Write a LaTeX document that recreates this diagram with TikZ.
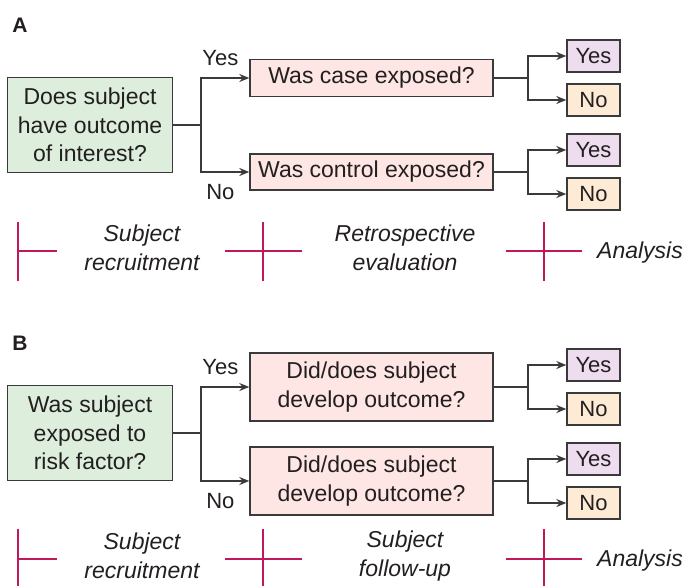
\documentclass[tikz,border=0pt]{standalone}
\usepackage{fontspec}
\setmainfont{Liberation Sans}
\usepackage{tikz}
\usetikzlibrary{arrows.meta, positioning}
\definecolor{qgreen}{HTML}{DDEEDD}
\definecolor{askpink}{HTML}{FDE6E3}
\definecolor{yeslilac}{HTML}{EDDDEE}
\definecolor{noorange}{HTML}{FDEBD6}
\definecolor{phasered}{HTML}{C0185A}
\definecolor{edgegray}{HTML}{3A3A3A}
\definecolor{inkdark}{HTML}{231F20}

\begin{document}
\begin{tikzpicture}[x=1pt, y=-1pt,
    box/.style={draw=edgegray, line width=1.4pt, inner sep=0pt, align=center, text=inkdark, font=\fontsize{23}{28.5}\selectfont},
    qbox/.style={box, fill=qgreen, minimum width=165pt, minimum height=95pt},
    ask/.style={box, fill=askpink, minimum width=243pt},
    yesbox/.style={box, fill=yeslilac, minimum width=53pt, minimum height=32pt, font=\fontsize{22}{26}\selectfont},
    nobox/.style={box, fill=noorange, minimum width=53pt, minimum height=32pt, font=\fontsize{22}{26}\selectfont},
    arr/.style={-{Stealth[length=10pt,width=8pt]}, line width=1.4pt, draw=edgegray},
    link/.style={line width=1.4pt, draw=edgegray},
    phase/.style={line width=1.3pt, draw=phasered},
    stage/.style={align=center, text=inkdark, font=\fontsize{23}{28.5}\selectfont\itshape},
    lbl/.style={text=inkdark, font=\fontsize{22}{26}\selectfont},
    panel/.style={text=inkdark, font=\fontsize{21}{24}\selectfont\bfseries}
]
    \useasboundingbox (0,0) rectangle (700,586);

    % panel A
    \node[panel] (labA) at (20,25) {A};
    \node[qbox] (qA) at (90,125) {Does subject\\have outcome\\of interest?};
    \node[ask, minimum height=37pt] (caseq) at (371.5,78) {Was case exposed?};
    \node[ask, minimum height=36pt] (ctrlq) at (371.5,172) {Was control exposed?};
    \node[yesbox] (yes1) at (593.5,56)  {Yes};
    \node[nobox]  (no1)  at (593.5,100) {No};
    \node[yesbox] (yes2) at (593.5,150) {Yes};
    \node[nobox]  (no2)  at (593.5,194) {No};

    \coordinate (jA)  at (201,125);
    \coordinate (jA1) at (528,78);
    \coordinate (jA2) at (528,172);

    \draw[link] (qA) -- (jA);
    \draw[arr] (jA) |- node[lbl, pos=0.7, above=8pt] {Yes} (caseq);
    \draw[arr] (jA) |- node[lbl, pos=0.7, below=8pt] {No} (ctrlq);
    \draw[link] (caseq) -- (jA1);
    \draw[arr] (jA1) |- (yes1);
    \draw[arr] (jA1) |- (no1);
    \draw[link] (ctrlq) -- (jA2);
    \draw[arr] (jA2) |- (yes2);
    \draw[arr] (jA2) |- (no2);

    \draw[phase] (18,222) -- (18,281) (18,251) -- (57,251);
    \draw[phase] (263,222) -- (263,281) (225,251) -- (302,251);
    \draw[phase] (544,222) -- (544,281) (506,251) -- (582,251);
    \node[stage] (recA)   at (142,248) {Subject\\recruitment};
    \node[stage] (retroA) at (405,248) {Retrospective\\evaluation};
    \node[stage] (anaA)   at (640,253) {Analysis};

    % panel B
    \node[panel] (labB) at (20,343) {B};
    \node[qbox] (qB) at (90,433) {Was subject\\exposed to\\risk factor?};
    \node[ask, minimum height=68pt] (dev1) at (371.5,387) {Did/does subject\\develop outcome?};
    \node[ask, minimum height=68pt] (dev2) at (371.5,481) {Did/does subject\\develop outcome?};
    \node[yesbox] (yes3) at (593.5,365) {Yes};
    \node[nobox]  (no3)  at (593.5,409) {No};
    \node[yesbox] (yes4) at (593.5,459) {Yes};
    \node[nobox]  (no4)  at (593.5,503) {No};

    \coordinate (jB)  at (201,433);
    \coordinate (jB1) at (528,387);
    \coordinate (jB2) at (528,481);

    \draw[link] (qB) -- (jB);
    \draw[arr] (jB) |- node[lbl, pos=0.7, above=8pt] {Yes} (dev1);
    \draw[arr] (jB) |- node[lbl, pos=0.7, below=8pt] {No} (dev2);
    \draw[link] (dev1) -- (jB1);
    \draw[arr] (jB1) |- (yes3);
    \draw[arr] (jB1) |- (no3);
    \draw[link] (dev2) -- (jB2);
    \draw[arr] (jB2) |- (yes4);
    \draw[arr] (jB2) |- (no4);

    \draw[phase] (18,529) -- (18,586) (18,559) -- (57,559);
    \draw[phase] (263,529) -- (263,586) (225,559) -- (302,559);
    \draw[phase] (544,529) -- (544,586) (506,559) -- (582,559);
    \node[stage] (recB)    at (142,556) {Subject\\recruitment};
    \node[stage] (followB) at (405,556) {Subject\\follow-up};
    \node[stage] (anaB)    at (640,561) {Analysis};
\end{tikzpicture}
\end{document}
